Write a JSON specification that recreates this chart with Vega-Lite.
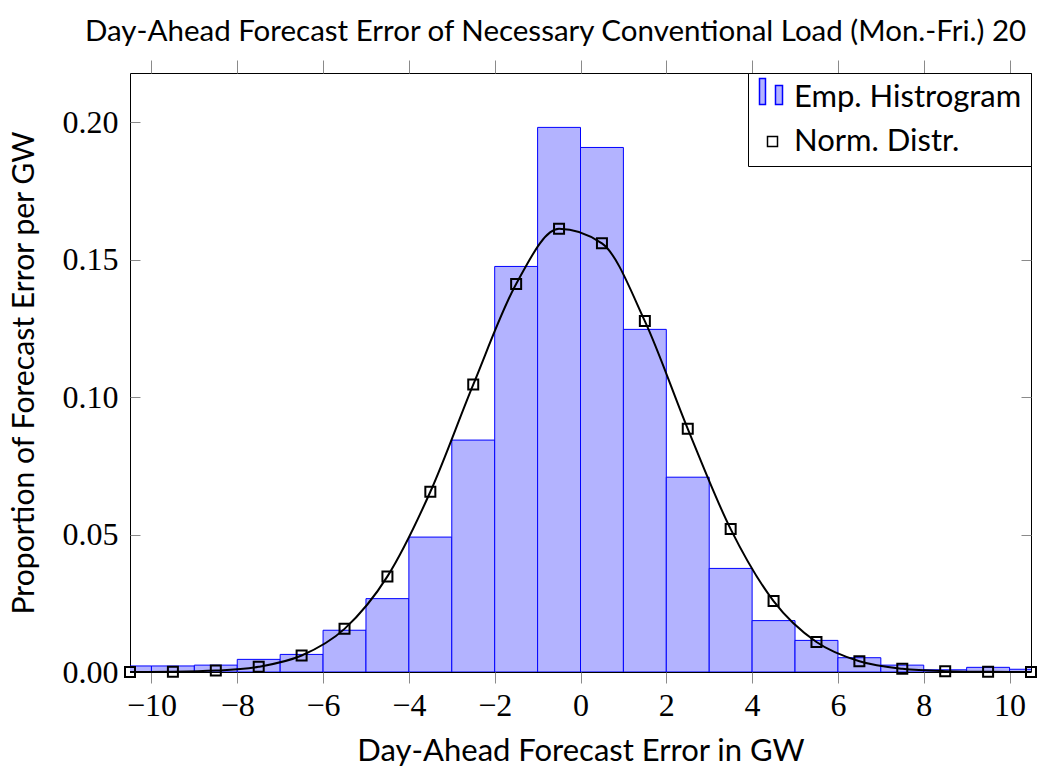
{
  "$schema": "https://vega.github.io/schema/vega-lite/v6.json",
  "width": 901,
  "height": 599,
  "autosize": {"type": "none"},
  "padding": {"left": 130, "top": 73, "right": 9, "bottom": 94},
  "background": "white",
  "title": {
    "text": "Day-Ahead Forecast Error of Necessary Conventional Load (Mon.-Fri.) 20",
    "anchor": "start",
    "frame": "group",
    "dx": -45,
    "offset": 12,
    "font": "Lato",
    "fontSize": 29.5,
    "fontWeight": "normal",
    "color": "black"
  },
  "config": {
    "view": {"stroke": "black", "strokeWidth": 1},
    "axis": {"grid": false, "domain": false, "tickColor": "#8a8a8a", "tickWidth": 1, "labelColor": "black", "titleColor": "black"},
    "legend": {
      "orient": "top-right",
      "offset": 0,
      "padding": 9,
      "strokeColor": "black",
      "fillColor": "white",
      "cornerRadius": 0,
      "labelFont": "Lato",
      "labelFontSize": 31,
      "labelColor": "black",
      "labelLimit": 500,
      "labelOffset": 6,
      "rowPadding": 12,
      "symbolStrokeWidth": 1.5,
      "symbolOpacity": 1
    }
  },
  "datasets": {
    "hist": [
      {"x0": -11, "x1": -10, "p": 0.0022},
      {"x0": -10, "x1": -9, "p": 0.0022},
      {"x0": -9, "x1": -8, "p": 0.0025},
      {"x0": -8, "x1": -7, "p": 0.0046},
      {"x0": -7, "x1": -6, "p": 0.0064},
      {"x0": -6, "x1": -5, "p": 0.0152},
      {"x0": -5, "x1": -4, "p": 0.0267},
      {"x0": -4, "x1": -3, "p": 0.0491},
      {"x0": -3, "x1": -2, "p": 0.0844},
      {"x0": -2, "x1": -1, "p": 0.1476},
      {"x0": -1, "x1": 0, "p": 0.1982},
      {"x0": 0, "x1": 1, "p": 0.1909},
      {"x0": 1, "x1": 2, "p": 0.1247},
      {"x0": 2, "x1": 3, "p": 0.0709},
      {"x0": 3, "x1": 4, "p": 0.0377},
      {"x0": 4, "x1": 5, "p": 0.0187},
      {"x0": 5, "x1": 6, "p": 0.0115},
      {"x0": 6, "x1": 7, "p": 0.0052},
      {"x0": 7, "x1": 8, "p": 0.0025},
      {"x0": 8, "x1": 9, "p": 0.0008},
      {"x0": 9, "x1": 10, "p": 0.0017},
      {"x0": 10, "x1": 11, "p": 0.0010}
    ],
    "norm": [
      {"x": -10.5, "p": 0.00002},
      {"x": -9.5, "p": 0.00012},
      {"x": -8.5, "p": 0.00052},
      {"x": -7.5, "p": 0.0019},
      {"x": -6.5, "p": 0.0060},
      {"x": -5.5, "p": 0.0157},
      {"x": -4.5, "p": 0.0348},
      {"x": -3.5, "p": 0.0656},
      {"x": -2.5, "p": 0.1046},
      {"x": -1.5, "p": 0.1412},
      {"x": -0.5, "p": 0.1613},
      {"x": 0.5, "p": 0.1560},
      {"x": 1.5, "p": 0.1277},
      {"x": 2.5, "p": 0.0885},
      {"x": 3.5, "p": 0.0520},
      {"x": 4.5, "p": 0.0258},
      {"x": 5.5, "p": 0.0109},
      {"x": 6.5, "p": 0.0039},
      {"x": 7.5, "p": 0.00116},
      {"x": 8.5, "p": 0.0003},
      {"x": 9.5, "p": 0.00006},
      {"x": 10.5, "p": 0.00001}
    ]
  },
  "resolve": {"axis": {"x": "independent", "y": "independent"}},
  "layer": [
    {
      "data": {"name": "hist"},
      "mark": {"type": "rect", "strokeWidth": 1, "clip": true, "opacity": 1},
      "encoding": {
        "x": {
          "field": "x0", "type": "quantitative",
          "scale": {"domain": [-10.5, 10.5], "nice": false, "zero": false},
          "axis": {
            "orient": "bottom",
            "values": [-10, -8, -6, -4, -2, 0, 2, 4, 6, 8, 10],
            "labelFont": "Liberation Serif", "labelFontSize": 32,
            "labelPadding": 7, "labelFlush": false, "labelOverlap": false,
            "tickSize": 11,
            "title": "Day-Ahead Forecast Error in GW",
            "titleFont": "Lato", "titleFontSize": 31, "titleFontWeight": "normal",
            "titleBaseline": "alphabetic", "titleY": 88
          }
        },
        "x2": {"field": "x1"},
        "y": {
          "field": "p", "type": "quantitative",
          "scale": {"domain": [0, 0.218], "nice": false, "zero": true},
          "axis": {
            "orient": "left",
            "values": [0, 0.05, 0.1, 0.15, 0.2],
            "format": ".2f",
            "labelFont": "Liberation Serif", "labelFontSize": 32,
            "tickSize": -10, "labelPadding": 22,
            "title": "Proportion of Forecast Error per GW",
            "titleFont": "Lato", "titleFontSize": 30.2, "titleFontWeight": "normal",
            "titleAngle": 270, "titleBaseline": "alphabetic", "titleX": -97
          }
        },
        "y2": {"datum": 0},
        "fill": {
          "datum": "Emp. Histrogram", "type": "nominal",
          "scale": {"domain": ["Emp. Histrogram", "Norm. Distr."], "range": ["#b3b3ff", "transparent"]},
          "legend": {"title": null}
        },
        "stroke": {
          "datum": "Emp. Histrogram", "type": "nominal",
          "scale": {"domain": ["Emp. Histrogram", "Norm. Distr."], "range": ["#0000ff", "#000000"]},
          "legend": {"title": null}
        }
      }
    },
    {
      "data": {"name": "norm"},
      "mark": {"type": "line", "interpolate": "monotone", "strokeWidth": 2},
      "encoding": {
        "x": {
          "field": "x", "type": "quantitative",
          "axis": {"orient": "top", "values": [-10, -8, -6, -4, -2, 0, 2, 4, 6, 8, 10], "labels": false, "title": null, "tickSize": 13}
        },
        "y": {
          "field": "p", "type": "quantitative",
          "axis": {"orient": "right", "values": [0, 0.05, 0.1, 0.15, 0.2], "labels": false, "title": null, "tickSize": -10}
        },
        "stroke": {"datum": "Norm. Distr.", "type": "nominal", "legend": {"title": null}}
      }
    },
    {
      "data": {"name": "norm"},
      "mark": {"type": "point", "filled": false, "strokeWidth": 2, "opacity": 1},
      "encoding": {
        "x": {"field": "x", "type": "quantitative", "axis": null},
        "y": {"field": "p", "type": "quantitative", "axis": null},
        "stroke": {"datum": "Norm. Distr.", "type": "nominal", "legend": {"title": null}},
        "shape": {
          "datum": "Norm. Distr.", "type": "nominal",
          "scale": {"domain": ["Emp. Histrogram", "Norm. Distr."], "range": ["M-1,-1.46H-0.54V0.54H-1Z M0.23,-0.92H0.77V0.54H0.23Z", "square"]},
          "legend": {"title": null}
        },
        "size": {
          "datum": "Norm. Distr.", "type": "ordinal",
          "scale": {"domain": ["Emp. Histrogram", "Norm. Distr."], "range": [676, 100]},
          "legend": {"title": null}
        }
      }
    }
  ]
}
